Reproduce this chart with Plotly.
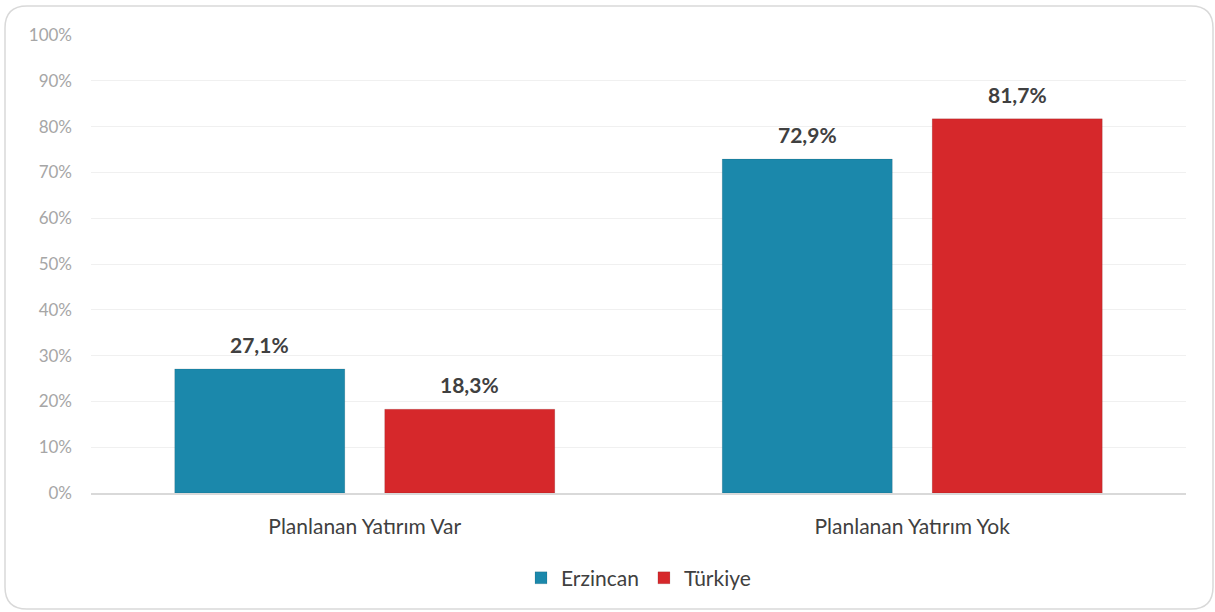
import plotly.graph_objects as go

categories = ["Planlanan Yatırım Var", "Planlanan Yatırım Yok"]
erzincan = [27.1, 72.9]
turkiye = [18.3, 81.7]
y_ticks = [0, 10, 20, 30, 40, 50, 60, 70, 80, 90, 100]
y_labels = [f"{v}%" for v in y_ticks]

W, H = 1215, 612
ML, MR, MT, MB = 91, 29, 35, 119
PW, PH = W - ML - MR, H - MT - MB
BARGAP, GROUPGAP = 0.233, 0.19

fig = go.Figure()
series = [("Erzincan", erzincan, "#1b88ab"), ("Türkiye", turkiye, "#d6282b")]
for name, vals, col in series:
    fig.add_trace(go.Bar(
        x=categories, y=vals, name=name,
        marker=dict(color=col, line=dict(color="rgba(0,0,0,0.10)", width=1)),
    ))

# value labels above bars (offset to each bar's slot within its group)
slot_px = PW / len(categories) * (1 - BARGAP) / len(series)
for i, (name, vals, col) in enumerate(series):
    shift = (i - (len(series) - 1) / 2) * slot_px
    for cat, v in zip(categories, vals):
        fig.add_annotation(
            x=cat, y=v, text=f"{v:.1f}%".replace(".", ","),
            showarrow=False, xshift=shift, yshift=10, yanchor="bottom",
            font=dict(family="Lato", size=21, color="#404040", weight="bold"),
        )


def px_to_paper(x, y):
    return (x - ML) / PW, (H - MB - y) / PH


# rounded outer frame
x0, y0 = px_to_paper(5, 6)
x1, y1 = px_to_paper(1213, 609)
rx, ry = 22 / PW, 22 / PH
path = (f"M {x0+rx},{y0} L {x1-rx},{y0} Q {x1},{y0} {x1},{y0-ry} "
        f"L {x1},{y1+ry} Q {x1},{y1} {x1-rx},{y1} L {x0+rx},{y1} "
        f"Q {x0},{y1} {x0},{y1+ry} L {x0},{y0-ry} Q {x0},{y0} {x0+rx},{y0} Z")
fig.add_shape(type="path", path=path, xref="paper", yref="paper",
              line=dict(color="#d9d9d9", width=1.5), layer="below")

fig.update_layout(
    width=W, height=H,
    margin=dict(l=ML, r=MR, t=MT, b=MB),
    paper_bgcolor="white", plot_bgcolor="white",
    barmode="group", bargap=BARGAP, bargroupgap=GROUPGAP,
    font=dict(family="Lato", color="#404040"),
    showlegend=True,
    legend=dict(orientation="h", x=0.5, xanchor="center", y=-0.186, yanchor="middle",
                font=dict(size=21, color="#404040"), itemwidth=30, traceorder="normal"),
)
fig.update_yaxes(range=[0, 100], tickmode="array", tickvals=y_ticks, ticktext=y_labels,
                 tickfont=dict(size=17, color="#a6a6a6"),
                 gridcolor="#f0f0f0", gridwidth=1, zeroline=False,
                 showline=False, ticklabelstandoff=18)
fig.update_xaxes(tickfont=dict(size=21, color="#404040"), showline=True,
                 linecolor="#d9d9d9", linewidth=2, ticklabelstandoff=14)

fig.write_html("out.html", config={"displayModeBar": False},
               post_script="document.body.style.margin='0';")
